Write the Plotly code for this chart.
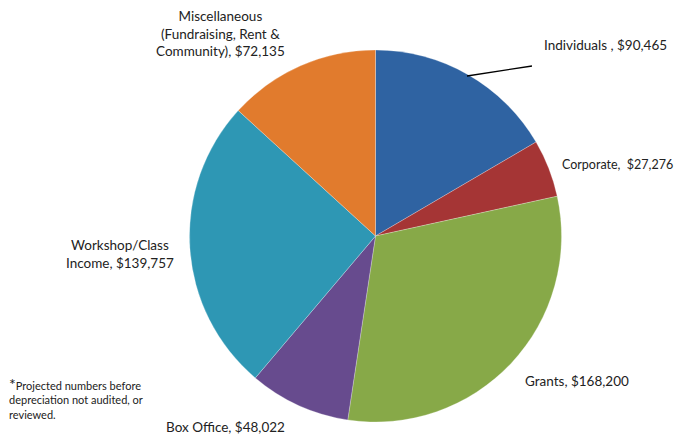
import plotly.graph_objects as go

categories = ["Individuals", "Corporate", "Grants", "Box Office", "Workshop/Class Income",
              "Miscellaneous (Fundraising, Rent & Community)"]
values = [90465, 27276, 168200, 48022, 139757, 72135]
colors = ["#2F63A2", "#A53535", "#87A948", "#674B8E", "#2E97B4", "#E17B2D"]

OFF = 8  # page body margin
W, H = 687 - OFF, 437 - OFF
cx, cy, r = 375.5 - OFF, 236 - OFF, 186

fig = go.Figure(go.Pie(
    labels=categories, values=values, sort=False, direction="clockwise", rotation=0,
    marker=dict(colors=colors, line=dict(color="rgba(255,255,255,0.5)", width=0.5)),
    textinfo="none", hoverinfo="label+value", showlegend=False,
    domain=dict(x=[(cx - r) / W, (cx + r) / W], y=[(H - cy - r) / H, (H - cy + r) / H]),
))

def px(x):
    return (x - OFF) / W

def py(y):
    return 1 - (y - OFF) / H

FAM = "Lato, Open Sans, sans-serif"
font = dict(family=FAM, size=13.5, color="#222222")

def fmt(v):
    return "${:,}".format(v)

anns = [
    dict(x=px(220), y=py(33), text="Miscellaneous<br>(Fundraising, Rent &<br>Community), " + fmt(values[5]),
         xanchor="center", yanchor="middle", align="center"),
    dict(x=px(542), y=py(45), text="Individuals , " + fmt(values[0]), xanchor="left", yanchor="middle"),
    dict(x=px(560), y=py(164), text="Corporate,  " + fmt(values[1]), xanchor="left", yanchor="middle",
         font=dict(family=FAM, size=12.5, color="#222222")),
    dict(x=px(523), y=py(381), text="Grants, " + fmt(values[2]), xanchor="left", yanchor="middle"),
    dict(x=px(164), y=py(427), text="Box Office, " + fmt(values[3]), xanchor="left", yanchor="middle"),
    dict(x=px(120), y=py(254), text="Workshop/Class<br>Income, " + fmt(values[4]),
         xanchor="center", yanchor="middle", align="center"),
    dict(x=px(7), y=py(397), text="<span style='font-size:16px'>*</span>Projected numbers before<br>depreciation not audited, or<br>reviewed.",
         xanchor="left", yanchor="middle", align="left", font=dict(family=FAM, size=11, color="#222222")),
]
for a in anns:
    a.setdefault("font", font)
    a.update(xref="paper", yref="paper", showarrow=False)

fig.update_layout(
    width=W, height=H, margin=dict(l=0, r=0, t=0, b=0),
    paper_bgcolor="white", plot_bgcolor="white",
    annotations=anns,
    shapes=[dict(type="line", xref="paper", yref="paper",
                 x0=px(467), y0=py(76), x1=px(532), y1=py(66),
                 line=dict(color="black", width=1.3))],
)

fig.write_html("out.html")
